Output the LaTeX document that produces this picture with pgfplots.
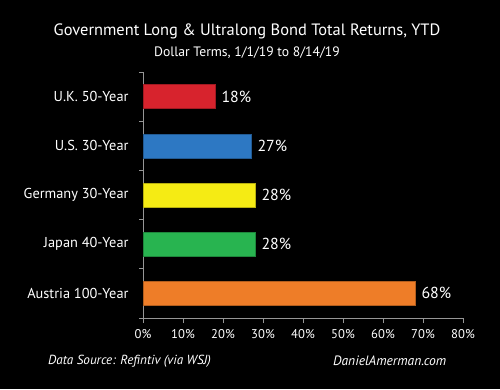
\documentclass[border=0pt]{standalone}
\usepackage{fontspec}
\setmainfont{PT Sans}
\usepackage{pgfplots}
\pgfplotsset{compat=1.18}
\definecolor{cred}{RGB}{215,35,45}
\definecolor{cblue}{RGB}{45,120,195}
\definecolor{cyellow}{RGB}{245,235,20}
\definecolor{cgreen}{RGB}{40,180,80}
\definecolor{corange}{RGB}{238,125,40}
\definecolor{axgray}{RGB}{150,150,150}
\begin{document}
\begin{tikzpicture}[x=1bp,y=1bp]
\fill[black] (0,0) rectangle (500,389);
\useasboundingbox (0,0) rectangle (500,389);
\node[white,font=\fontsize{16.5}{19}\selectfont] at (247,358) {Government Long \& Ultralong Bond Total Returns, YTD};
\node[white,font=\fontsize{13.7}{16}\selectfont] at (247,336) {Dollar Terms, 1/1/19 to 8/14/19};
\node[white,anchor=west,font=\itshape\fontsize{13.2}{15}\selectfont,inner sep=0pt] at (48,28) {Data Source: Refintiv (via WSJ)};
\node[white,anchor=west,font=\itshape\fontsize{13.6}{15}\selectfont,inner sep=0pt] at (333,28) {DanielAmerman.com};
\begin{axis}[
  at={(143bp,71bp)}, anchor=south west,
  scale only axis, width=320bp, height=246bp,
  xmin=0, xmax=80, ymin=-0.5, ymax=4.5,
  axis x line*=bottom, axis y line*=left,
  axis line style={axgray, line width=0.8pt, -},
  xtick={0,10,...,80},
  xticklabel={\pgfmathprintnumber{\tick}\%},
  ytick={0,1,2,3,4},
  yticklabels={Austria 100-Year, Japan 40-Year, Germany 30-Year, U.S. 30-Year, U.K. 50-Year},
  minor ytick={-0.5,0.5,1.5,2.5,3.5,4.5},
  tick align=outside,
  major tick length=5bp, minor tick length=4bp,
  major y tick style={draw=none},
  x tick style={axgray, line width=0.8pt},
  minor y tick style={axgray, line width=0.8pt},
  /pgf/number format/assume math mode=true,
  xticklabel style={white, font=\fontsize{12.7}{14}\selectfont, yshift=-3bp},
  yticklabel style={white, font=\fontsize{14.4}{16}\selectfont, xshift=-6bp},
  xbar, bar width=24bp, bar shift=0pt,
  nodes near coords={\pgfmathprintnumber{\pgfplotspointmeta}\%},
  every node near coord/.append style={white, font=\fontsize{16}{18}\selectfont, anchor=west, xshift=3bp},
  clip=false,
]
\addplot[fill=corange, draw=corange!75!black] coordinates {(68,0)};
\addplot[fill=cgreen, draw=cgreen!75!black] coordinates {(28,1)};
\addplot[fill=cyellow, draw=cyellow!75!black] coordinates {(28,2)};
\addplot[fill=cblue, draw=cblue!75!black] coordinates {(27,3)};
\addplot[fill=cred, draw=cred!75!black] coordinates {(18,4)};
\end{axis}
\end{tikzpicture}
\end{document}
